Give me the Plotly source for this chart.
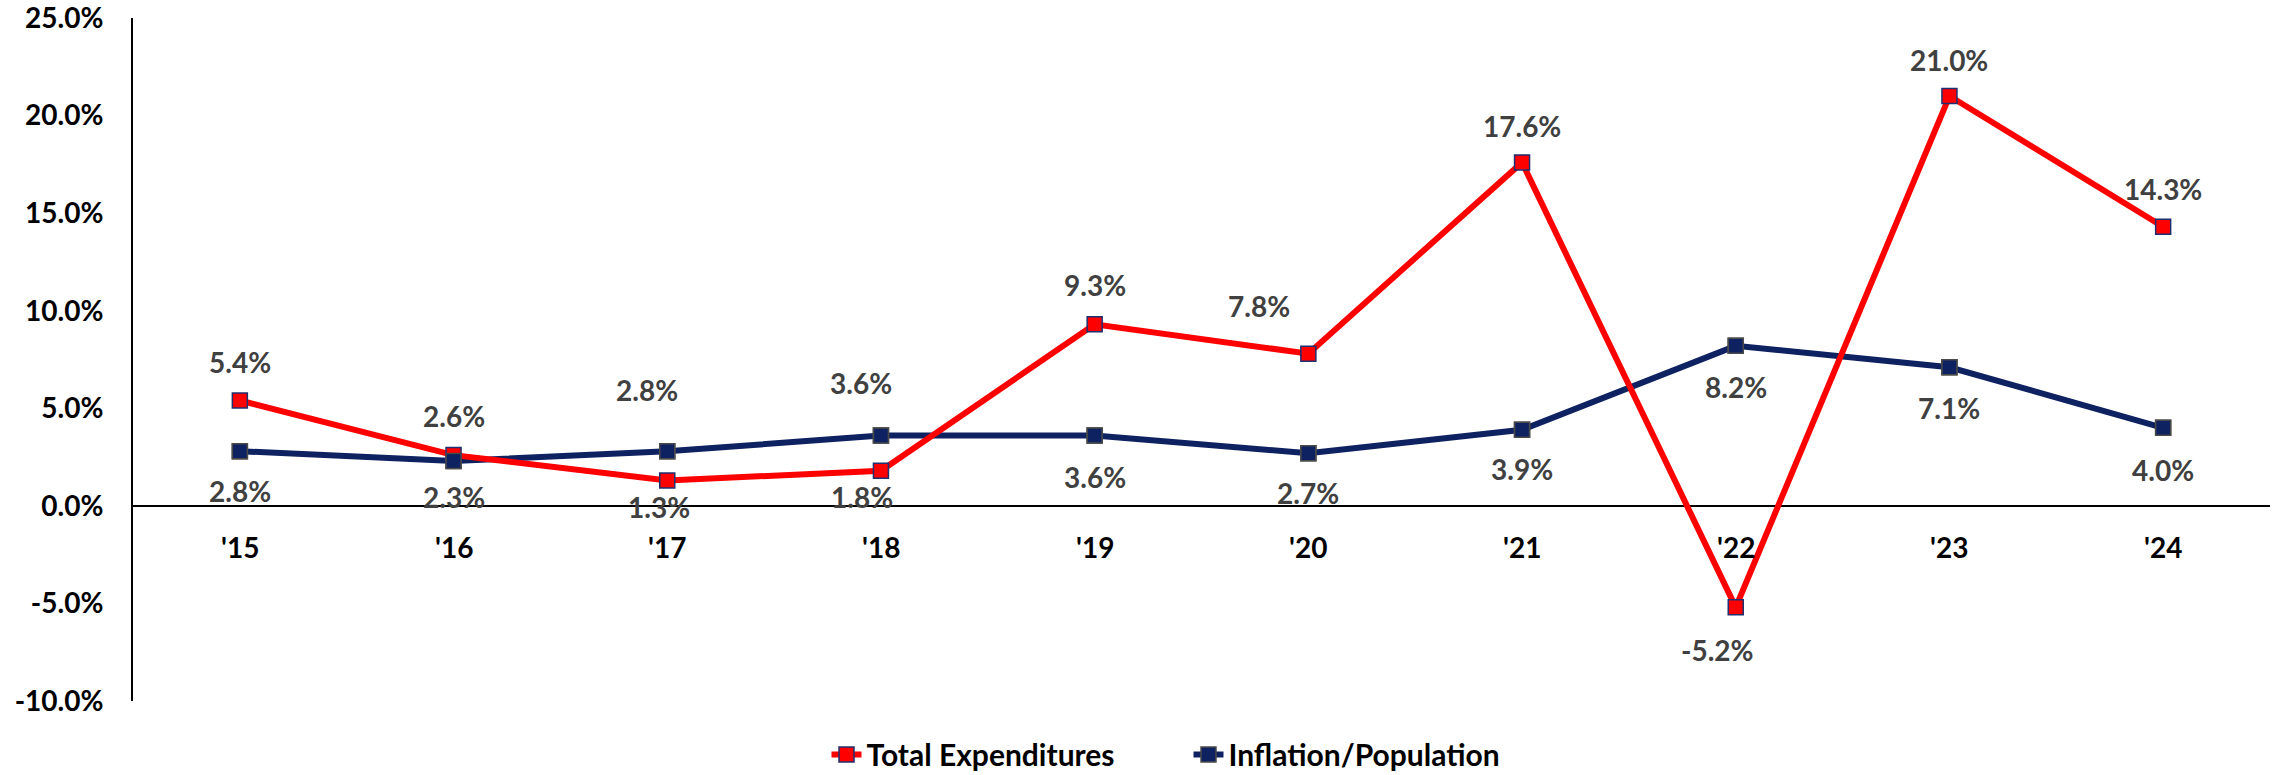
import plotly.graph_objects as go

years = ["'15", "'16", "'17", "'18", "'19", "'20", "'21", "'22", "'23", "'24"]
total_exp = [5.4, 2.6, 1.3, 1.8, 9.3, 7.8, 17.6, -5.2, 21.0, 14.3]
infl_pop = [2.8, 2.3, 2.8, 3.6, 3.6, 2.7, 3.9, 8.2, 7.1, 4.0]
y_ticks = [-10, -5, 0, 5, 10, 15, 20, 25]

# label placement offsets in pixels (style only)
red_dy = [38, 39, -27, -26, 39, 48, 36, -43, 36, 38]
red_dx = [0, 0, -8, -19, 0, -49, 0, -18, 0, 0]
blue_dy = [-40, -36, 61, 53, -41, -40, -39, -41, -41, -42]
blue_dx = [0, 0, -20, -20, 0, 0, 0, 0, 0, 0]

RED = "#FF0000"
NAVY = "#0E2160"
FONT = "Lato"

red_marker = dict(symbol="square", size=15, color=RED, line=dict(color="#1F3070", width=1.5))
blue_marker = dict(symbol="square", size=15, color=NAVY, line=dict(color="#4A4A4A", width=1.5))

fig = go.Figure()
fig.add_trace(go.Scatter(
    x=years, y=infl_pop, name="Inflation/Population", mode="lines+markers",
    line=dict(color=NAVY, width=6), marker=blue_marker, legendrank=2,
))
fig.add_trace(go.Scatter(
    x=years, y=total_exp, name="Total Expenditures", mode="lines+markers",
    line=dict(color=RED, width=6), marker=red_marker, legendrank=1,
))
fig.add_trace(go.Scatter(
    x=years, y=infl_pop, mode="markers", marker=blue_marker, showlegend=False,
))

annotations = []
for i, (yr, v) in enumerate(zip(years, total_exp)):
    annotations.append(dict(x=yr, y=v, text=f"{v:.1f}%", showarrow=False,
                            xshift=red_dx[i], yshift=red_dy[i], yanchor="middle",
                            font=dict(family=FONT, size=28, color="#404040", weight="bold")))
for i, (yr, v) in enumerate(zip(years, infl_pop)):
    annotations.append(dict(x=yr, y=v, text=f"{v:.1f}%", showarrow=False,
                            xshift=blue_dx[i], yshift=blue_dy[i], yanchor="middle",
                            font=dict(family=FONT, size=28, color="#404040", weight="bold")))
for yr in years:
    annotations.append(dict(x=yr, y=0, text=yr, showarrow=False, yshift=-41, yanchor="middle",
                            font=dict(family=FONT, size=28, color="#000000", weight="bold")))

fig.update_layout(
    width=2275, height=775,
    margin=dict(l=133, r=5, t=18, b=74, autoexpand=False),
    paper_bgcolor="white", plot_bgcolor="white",
    showlegend=True,
    legend=dict(orientation="h", xref="container", yref="container",
                x=0.3633, y=0.06, xanchor="left", yanchor="top",
                font=dict(family=FONT, size=30, color="#000000", weight="bold"),
                entrywidth=317, entrywidthmode="pixels", traceorder="normal"),
    annotations=annotations,
    xaxis=dict(type="category", range=[-0.5, 9.5], showticklabels=False, showgrid=False,
               showline=False, zeroline=False, fixedrange=True),
    yaxis=dict(range=[-10, 25], tickvals=y_ticks,
               ticktext=[f"{t:.1f}%" for t in y_ticks],
               tickfont=dict(family=FONT, size=28, color="#000000", weight="bold"),
               showgrid=False, showline=True, linecolor="#000000", linewidth=2,
               zeroline=True, zerolinecolor="#000000", zerolinewidth=2,
               ticks="", ticklabelstandoff=22, automargin=False,
               ticklabeloverflow="allow"),
)

fig.write_html("out.html", config={"displayModeBar": False},
               post_script="document.body.style.margin='0';document.body.style.overflow='hidden';")
